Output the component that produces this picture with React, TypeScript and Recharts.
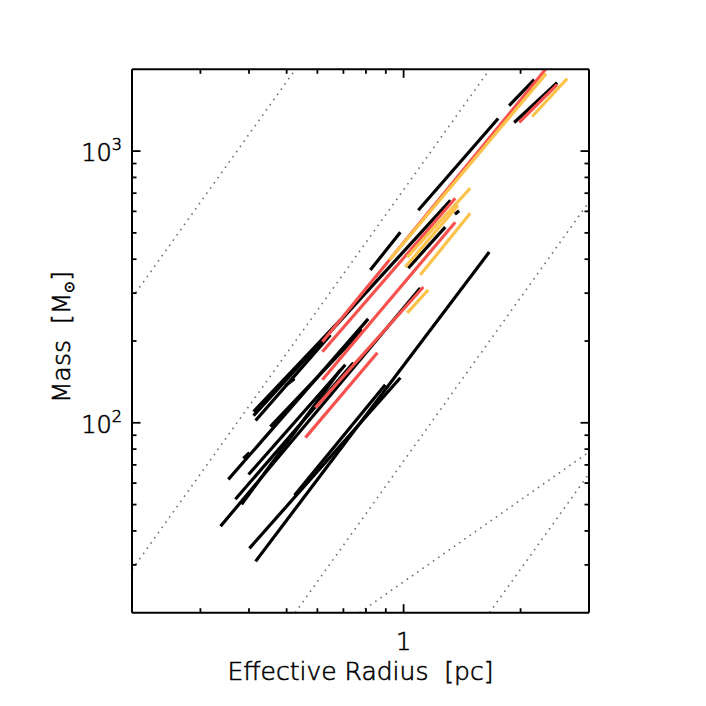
import React from 'react';
import { ComposedChart, Line, XAxis, YAxis } from 'recharts';

const radiusDomain: [number, number] = [0.2, 3];
const massDomain: [number, number] = [20, 2000];
const xMajorTicks = [1];
const xMinorTicks = [0.3, 0.4, 0.5, 0.6, 0.7, 0.8, 0.9, 2];
const yMajorTicks = [100, 1000];
const yMinorTicks = [30, 40, 50, 60, 70, 80, 90, 200, 300, 400, 500, 600, 700, 800, 900];
const xTickLabels: Record<number, string> = { 1: '1' };
const yTickExponents: Record<number, string> = { 100: '2', 1000: '3' };

// each track: [radius start, mass start, radius end, mass end]
const blackTracks: number[][] = [
  [0.416, 30.9, 1.661, 424.9],
  [0.401, 34.5, 0.981, 146.5],
  [0.524, 54.1, 0.897, 138.1],
  [0.338, 41.6, 1.104, 313.5],
  [0.369, 52.3, 0.743, 166.4],
  [0.383, 50.1, 0.688, 156.8],
  [0.354, 61.9, 0.811, 241.2],
  [0.399, 64.5, 0.708, 163.6],
  [0.454, 96.8, 0.783, 219.8],
  [0.411, 106.3, 1.32, 659],
  [0.416, 101.9, 0.648, 210.7],
  [0.411, 109.9, 0.688, 239.2],
  [0.821, 364.9, 0.981, 503.0],
  [1.091, 605.8, 1.751, 1318],
  [1.869, 1471, 2.168, 1833],
  [1.926, 1274.5, 2.484, 1787],
  [1.028, 371.1, 1.28, 524.8],
  [0.387, 73.9, 0.401, 77.7],
  [0.496, 136.9, 0.524, 145.3],
  [1.355, 585, 1.39, 603],
];

const redTracks: number[][] = [
  [0.618, 198.6, 2.327, 2012],
  [0.618, 182.5, 1.358, 670.6],
  [1.984, 1274.5, 2.484, 1757],
  [0.618, 144.1, 1.358, 547.4],
  [0.593, 113.7, 1.124, 316.1],
  [0.559, 88.2, 0.856, 181.0],
];

const orangeTracks: number[][] = [
  [0.919, 397.1, 2.327, 1928],
  [2.142, 1341, 2.636, 1849],
  [1.022, 407.3, 1.484, 729.7],
  [1.01, 374.3, 1.382, 632.0],
  [1.104, 349.9, 1.484, 590.6],
  [1.022, 253.7, 1.157, 308.3],
];

const dottedGuides: number[][] = [
  [0.2, 288, 0.527, 2000],
  [0.2, 28.8, 1.666, 2000],
  [0.526, 20, 3, 650],
  [1.663, 20, 3, 65],
  [0.77, 20, 3, 78],
];

const FONT = '"DejaVu Sans", sans-serif';
const FONT_WEIGHT = 200;
const TEXT_STROKE = 0.6;

const toData = (t: number[]) => [
  { r: t[0], m: t[1] },
  { r: t[2], m: t[3] },
];

type Side = 'bottom' | 'top' | 'left' | 'right';

function renderTick(side: Side) {
  return (props: any) => {
    const { x, y, payload } = props;
    const v = payload.value;
    const isX = side === 'bottom' || side === 'top';
    const major = isX ? xMajorTicks.includes(v) : yMajorTicks.includes(v);
    const len = major ? 8.5 : 4.5;
    let x2 = x;
    let y2 = y;
    if (side === 'bottom') y2 = y - len;
    if (side === 'top') y2 = y + len;
    if (side === 'left') x2 = x + len;
    if (side === 'right') x2 = x - len;
    let label: React.ReactNode = null;
    if (side === 'bottom' && xTickLabels[v]) {
      label = (
        <text x={x} y={y + 37} textAnchor="middle" fontSize={24} fontFamily={FONT} fontWeight={FONT_WEIGHT} fill="#000" stroke="#000" strokeWidth={TEXT_STROKE}>
          {xTickLabels[v]}
        </text>
      );
    }
    if (side === 'left' && yTickExponents[v]) {
      label = (
        <text x={x - 10} y={y + 10} textAnchor="end" fontSize={24} fontFamily={FONT} fontWeight={FONT_WEIGHT} fill="#000" stroke="#000" strokeWidth={TEXT_STROKE}>
          <tspan>10</tspan>
          <tspan dy={-11} fontSize={16}>{yTickExponents[v]}</tspan>
        </text>
      );
    }
    return (
      <g>
        <line x1={x} y1={y} x2={x2} y2={y2} stroke="#000" strokeWidth={1.8} />
        {label}
      </g>
    );
  };
}

const xLabel = (props: any) => {
  const vb = props.viewBox;
  return (
    <text x={vb.x + vb.width / 2} y={vb.y + 67} textAnchor="middle" fontSize={25} fontFamily={FONT} fontWeight={FONT_WEIGHT} fill="#000" stroke="#000" strokeWidth={TEXT_STROKE}>
      {'Effective Radius\u00A0\u00A0[pc]'}
    </text>
  );
};

const yLabel = (props: any) => {
  const vb = props.viewBox;
  const cx = vb.x + vb.width - 62;
  const cy = vb.y + vb.height / 2 - 4;
  return (
    <text x={cx} y={cy} transform={`rotate(-90 ${cx} ${cy})`} textAnchor="middle" fontSize={25} fontFamily={FONT} fontWeight={FONT_WEIGHT} fill="#000" stroke="#000" strokeWidth={TEXT_STROKE}>
      <tspan>{'Mass\u00A0\u00A0[M'}</tspan>
      <tspan fontSize={14} dy={4}>⊙</tspan>
      <tspan dy={-4}>]</tspan>
    </text>
  );
};

const TRACK_WIDTH = 3.2;

export default function App() {
  const xTicks = [...xMinorTicks, ...xMajorTicks];
  const yTicks = [...yMinorTicks, ...yMajorTicks];
  const renderTracks = (tracks: number[][], color: string, prefix: string) =>
    tracks.map((t, i) => (
      <Line
        key={prefix + i}
        xAxisId="b"
        yAxisId="l"
        data={toData(t)}
        dataKey="m"
        type="linear"
        stroke={color}
        strokeWidth={TRACK_WIDTH}
        dot={false}
        activeDot={false}
        isAnimationActive={false}
      />
    ));
  return (
    <div style={{ width: 690, height: 690 }}>
      <ComposedChart width={690} height={690} margin={{ top: 31.3, right: 69, bottom: 15.3, left: 24 }}>
        <XAxis
          xAxisId="b"
          orientation="bottom"
          type="number"
          dataKey="r"
          scale="log"
          domain={radiusDomain}
          allowDataOverflow
          ticks={xTicks}
          interval={0}
          tickSize={0}
          tickMargin={0}
          tickLine={false}
          height={70}
          axisLine={{ stroke: '#000', strokeWidth: 2 }}
          tick={renderTick('bottom')}
          label={xLabel}
        />
        <XAxis
          xAxisId="t"
          orientation="top"
          type="number"
          dataKey="r"
          scale="log"
          domain={radiusDomain}
          allowDataOverflow
          ticks={xTicks}
          interval={0}
          tickSize={0}
          tickMargin={0}
          tickLine={false}
          height={30}
          axisLine={{ stroke: '#000', strokeWidth: 2 }}
          tick={renderTick('top')}
        />
        <YAxis
          yAxisId="l"
          orientation="left"
          type="number"
          scale="log"
          domain={massDomain}
          allowDataOverflow
          ticks={yTicks}
          interval={0}
          tickSize={0}
          tickMargin={0}
          tickLine={false}
          width={100}
          axisLine={{ stroke: '#000', strokeWidth: 2 }}
          tick={renderTick('left')}
          label={yLabel}
        />
        <YAxis
          yAxisId="r"
          orientation="right"
          type="number"
          scale="log"
          domain={massDomain}
          allowDataOverflow
          ticks={yTicks}
          interval={0}
          tickSize={0}
          tickMargin={0}
          tickLine={false}
          width={40}
          axisLine={{ stroke: '#000', strokeWidth: 2 }}
          tick={renderTick('right')}
        />
        {dottedGuides.map((g, i) => (
          <Line
            key={'d' + i}
            xAxisId="b"
            yAxisId="l"
            data={toData(g)}
            dataKey="m"
            type="linear"
            stroke="#707070"
            strokeWidth={1.6}
            strokeDasharray="1.6 4.8"
            dot={false}
            activeDot={false}
            isAnimationActive={false}
          />
        ))}
        {renderTracks(blackTracks, '#000', 'k')}
        {renderTracks(redTracks, '#f8524f', 'r')}
        {renderTracks(orangeTracks, '#fcc24a', 'o')}
      </ComposedChart>
    </div>
  );
}
